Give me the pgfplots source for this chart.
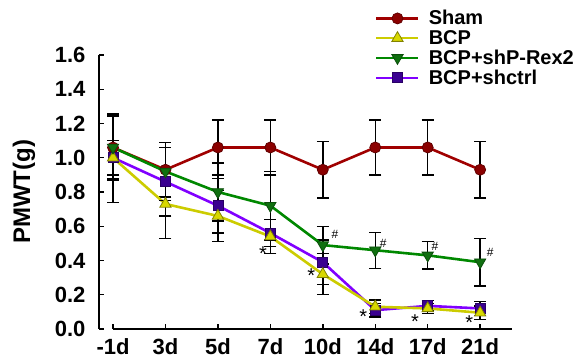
\documentclass[border=0pt]{standalone}
\usepackage{pgfplots}
\usepackage{pgfplotstable}
\pgfplotsset{compat=1.18}
\usepackage{fontspec}
\setmainfont{Liberation Sans}
\definecolor{shamline}{HTML}{A00000}
\definecolor{shamfill}{HTML}{8B0000}
\definecolor{bcpline}{HTML}{CCCC00}
\definecolor{bcpfill}{HTML}{D8D800}
\definecolor{grnline}{HTML}{008800}
\definecolor{grnfill}{HTML}{107010}
\definecolor{purline}{HTML}{8000FF}
\definecolor{purfill}{HTML}{3A0090}

\pgfplotstableread{
x y e
0 1.06 0.19
1 0.93 0.16
2 1.06 0.16
3 1.06 0.16
4 0.93 0.165
5 1.06 0.16
6 1.06 0.16
7 0.93 0.165
}\sham
\pgfplotstableread{
x y e
0 1.00 0.26
1 0.73 0.20
2 0.66 0.15
3 0.54 0.10
4 0.32 0.12
5 0.13 0.04
6 0.12 0.03
7 0.095 0.04
}\bcp
\pgfplotstableread{
x y e
0 1.00 0.10
1 0.86 0.20
2 0.72 0.16
3 0.56 0.08
4 0.39 0.13
5 0.11 0.04
6 0.135 0.03
7 0.12 0.04
}\shctrl
\pgfplotstableread{
x y e
0 1.06 0.18
1 0.92 0.17
2 0.80 0.17
3 0.72 0.20
4 0.49 0.11
5 0.46 0.105
6 0.43 0.08
7 0.39 0.14
}\rex

\begin{document}
\begin{tikzpicture}
\path[use as bounding box] (-99pt,-34pt) rectangle (477pt,329pt);
\begin{axis}[
  at={(0pt,0pt)}, anchor=south west,
  scale only axis, width=413pt, height=274pt,
  xmin=-0.267, xmax=7.607, ymin=0, ymax=1.6,
  axis lines*=left,
  x axis line style={draw=none},
  y axis line style={line width=1.6pt},
  tick align=inside,
  major tick length=5pt,
  tick style={line width=1.4pt, black},
  xtick={0,...,7},
  xticklabels={-1d,3d,5d,7d,10d,14d,17d,21d},
  ytick={0,0.2,0.4,0.6,0.8,1.0,1.2,1.4,1.6},
  yticklabels={0.0,0.2,0.4,0.6,0.8,1.0,1.2,1.4,1.6},
  ticklabel style={font=\fontsize{22}{24}\selectfont\bfseries},
  xticklabel style={yshift=-6pt},
  yticklabel style={xshift=-10pt},
  ylabel={PMWT(g)},
  every axis y label/.style={at={(axis description cs:0,0.5)}, xshift=-75pt, rotate=90, anchor=center, font=\fontsize{24}{26}\selectfont\bfseries},
  clip=false,
  legend style={draw=none, fill=none, at={(axis description cs:0.661,1.178)}, anchor=north west,
     font=\fontsize{20}{21}\selectfont\bfseries, row sep=0pt, cells={anchor=west}},
  legend cell align=left,
  legend image code/.code={\draw[mark repeat=2,mark phase=2] plot coordinates {(0pt,0pt) (21pt,0pt) (42pt,0pt)}; \path (49pt,0pt);},
  every axis plot/.append style={line width=2.6pt},
  error bars/error bar style={black, line width=1.4pt},
  error bars/error mark options={black, rotate=90, mark size=6pt, line width=1.4pt},
]
\draw[line width=1.6pt] (axis cs:0,0) -- (axis cs:7.607,0);
\addlegendimage{shamline, mark=*, mark size=5.5pt, mark options={fill=shamfill, draw=shamfill!70!black, line width=0.8pt}}
\addlegendentry{Sham}
\addlegendimage{bcpline, mark=triangle*, mark size=6.5pt, mark options={fill=bcpfill, draw=bcpfill!60!black, line width=0.8pt}}
\addlegendentry{BCP}
\addlegendimage{grnline, mark=triangle*, mark size=6.5pt, mark options={rotate=180, fill=grnfill, draw=grnfill!70!black, line width=0.8pt}}
\addlegendentry{BCP+shP-Rex2}
\addlegendimage{purline, mark=square*, mark size=5pt, mark options={fill=purfill, draw=purfill!70!black, line width=0.8pt}}
\addlegendentry{BCP+shctrl}

\addplot+[forget plot, shamline, mark=*, mark size=5.5pt, mark options={fill=shamfill, draw=shamfill!70!black, line width=0.8pt},
  error bars/.cd, y dir=both, y explicit] table[x=x, y=y, y error=e] {\sham};
\addplot+[forget plot, purline, mark=square*, mark size=5pt, mark options={fill=purfill, draw=purfill!70!black, line width=0.8pt},
  error bars/.cd, y dir=both, y explicit] table[x=x, y=y, y error=e] {\shctrl};
\addplot+[forget plot, bcpline, mark=triangle*, mark size=6.5pt, mark options={fill=bcpfill, draw=bcpfill!60!black, line width=0.8pt},
  error bars/.cd, y dir=both, y explicit] table[x=x, y=y, y error=e] {\bcp};
\addplot+[forget plot, grnline, mark=triangle*, mark size=6.5pt, mark options={rotate=180, fill=grnfill, draw=grnfill!70!black, line width=0.8pt},
  error bars/.cd, y dir=both, y explicit] table[x=x, y=y, y error=e] {\rex};

\node[font=\fontsize{20}{20}\selectfont] at (axis cs:2.86,0.44) {*};
\node[font=\fontsize{20}{20}\selectfont] at (axis cs:3.78,0.31) {*};
\node[font=\fontsize{20}{20}\selectfont] at (axis cs:4.77,0.07) {*};
\node[font=\fontsize{20}{20}\selectfont] at (axis cs:5.76,0.045) {*};
\node[font=\fontsize{20}{20}\selectfont] at (axis cs:6.79,0.035) {*};
\node[font=\fontsize{12}{12}\selectfont] at (axis cs:4.23,0.55) {\#};
\node[font=\fontsize{12}{12}\selectfont] at (axis cs:5.15,0.50) {\#};
\node[font=\fontsize{12}{12}\selectfont] at (axis cs:6.14,0.48) {\#};
\node[font=\fontsize{12}{12}\selectfont] at (axis cs:7.19,0.45) {\#};
\end{axis}
\end{tikzpicture}
\end{document}
